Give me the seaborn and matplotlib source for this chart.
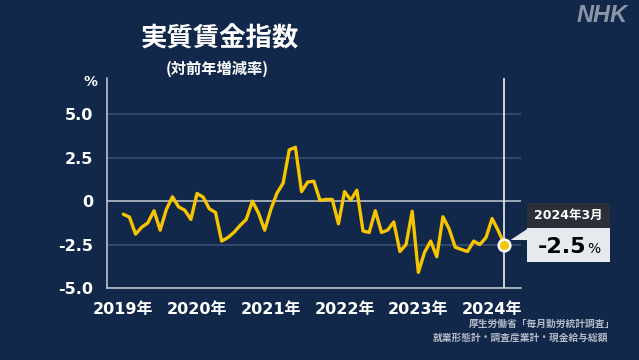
import matplotlib
matplotlib.use("Agg")
import numpy as np
import pandas as pd
import seaborn as sns
import matplotlib.pyplot as plt
from matplotlib.patches import Rectangle, Polygon

# ---- data ----
year_labels = ["2019年", "2020年", "2021年", "2022年", "2023年", "2024年"]
values_2019 = [-0.75, -0.92, -1.9, -1.5, -1.25, -0.55, -1.67, -0.48, 0.25, -0.33, -0.52, -1.05]
values_2020 = [0.44, 0.23, -0.44, -0.65, -2.3, -2.1, -1.8, -1.4, -1.05, 0.0, -0.69, -1.67]
values_2021 = [-0.48, 0.46, 1.04, 2.95, 3.1, 0.55, 1.1, 1.15, 0.04, 0.1, 0.1, -1.3]
values_2022 = [0.55, 0.06, 0.63, -1.72, -1.8, -0.55, -1.8, -1.67, -1.2, -2.9, -2.5, -0.58]
values_2023 = [-4.1, -2.95, -2.3, -3.2, -0.9, -1.6, -2.65, -2.78, -2.9, -2.3, -2.5, -2.1]
values_2024 = [-1.0, -1.7, -2.5]
y_ticks = [5.0, 2.5, 0.0, -2.5, -5.0]
y_tick_labels = ["5.0", "2.5", "0", "-2.5", "-5.0"]
last_label = "2024年3月"

values = values_2019 + values_2020 + values_2021 + values_2022 + values_2023 + values_2024
df = pd.DataFrame({"month": np.arange(len(values)), "value": values})

BG = "#11284a"
YEL = "#f7c400"
AXC = "#c9ced6"
GRID = "#3c5274"

sns.set_theme(style="white")
plt.rcParams["font.family"] = ["DejaVu Sans", "Noto Sans CJK JP"]

W, H = 639, 360
fig = plt.figure(figsize=(W / 100, H / 100), dpi=100, facecolor=BG)
ax = fig.add_axes([107 / W, 1 - 288 / H, (521 - 107) / W, (288 - 78) / H])
ax.set_facecolor(BG)

for t in y_ticks:
    if t == 0:
        ax.axhline(t, color="#c4cad4", lw=1.1, zorder=1)
    else:
        ax.axhline(t, color=GRID, lw=1.1, zorder=1)

sns.lineplot(data=df, x="month", y="value", color=YEL, lw=2.4, ax=ax, zorder=3)

last_x = df["month"].iloc[-1]
last_v = df["value"].iloc[-1]
ax.axvline(last_x, color="white", lw=1.1, zorder=2)
ax.scatter([last_x], [last_v], s=70, color=YEL, edgecolor="white", linewidth=1.8, zorder=5)

ax.set_xlim(-2.65, 64.7)
ax.set_ylim(-5.0, 7.09)
ax.set_xticks(np.arange(0, len(values), 12))
ax.set_xticklabels(year_labels)
ax.set_yticks(y_ticks)
ax.set_yticklabels(y_tick_labels)
ax.set_xlabel("")
ax.set_ylabel("")
ax.tick_params(axis="both", colors=AXC, labelcolor="white", length=4, width=1.1,
               labelsize=11.5, direction="out")
ax.tick_params(axis="y", pad=6)
ax.tick_params(axis="x", pad=6)
for lab in ax.get_xticklabels() + ax.get_yticklabels():
    lab.set_fontweight("bold")
for s in ["top", "right"]:
    ax.spines[s].set_visible(False)
for s in ["left", "bottom"]:
    ax.spines[s].set_color(AXC)
    ax.spines[s].set_linewidth(1.1)

# ---- texts ----
def fx(x):
    return x / W

def fy(y):
    return 1 - y / H

cjk = ["Noto Sans CJK JP"]
fig.text(fx(220), fy(39), "実質賃金指数", color="white", fontsize=19, fontweight="bold",
         family=cjk, ha="center", va="center")
fig.text(fx(217), fy(69), "(対前年増減率)", color="white", fontsize=11, fontweight="bold",
         family=cjk, ha="center", va="center")
fig.text(fx(91), fy(82), "%", color="white", fontsize=10, fontweight="bold", ha="center", va="center")
fig.text(fx(602), fy(16), "NHK", color="#8b95a7", fontsize=17, fontweight="bold", style="italic",
         family=["Liberation Sans"], ha="center", va="center")
fig.text(fx(615), fy(324), "厚生労働省「毎月勤労統計調査」", color="#b3bac6", fontsize=7,
         fontweight="bold", family=cjk, ha="right", va="center")
fig.text(fx(608), fy(338), "就業形態計・調査産業計・現金給与総額", color="#b3bac6", fontsize=7,
         fontweight="bold", family=cjk, ha="right", va="center")

# ---- callout ----
def frect(x0, y0, x1, y1, color):
    fig.patches.append(Rectangle((fx(x0), fy(y1)), fx(x1) - fx(x0), fy(y0) - fy(y1),
                                 transform=fig.transFigure, facecolor=color, edgecolor="none",
                                 zorder=1))

frect(527, 203, 610, 228, "#2a3038")
frect(527, 228, 610, 262, "#e6e9ee")
fig.patches.append(Polygon([(fx(510.5), fy(240)), (fx(528), fy(228.5)), (fx(528), fy(240))],
                           closed=True, transform=fig.transFigure, facecolor="#e6e9ee",
                           edgecolor="none", zorder=1))
fig.text(fx(568.5), fy(215.5), last_label, color="white", fontsize=9, fontweight="bold",
         ha="center", va="center")
fig.text(fx(586), fy(253), f"{last_v:.1f}", color="black", fontsize=16, fontweight="bold",
         ha="right", va="baseline")
fig.text(fx(587), fy(253), "%", color="black", fontsize=10, ha="left", va="baseline")

fig.savefig("out.png", dpi=100, facecolor=BG)
